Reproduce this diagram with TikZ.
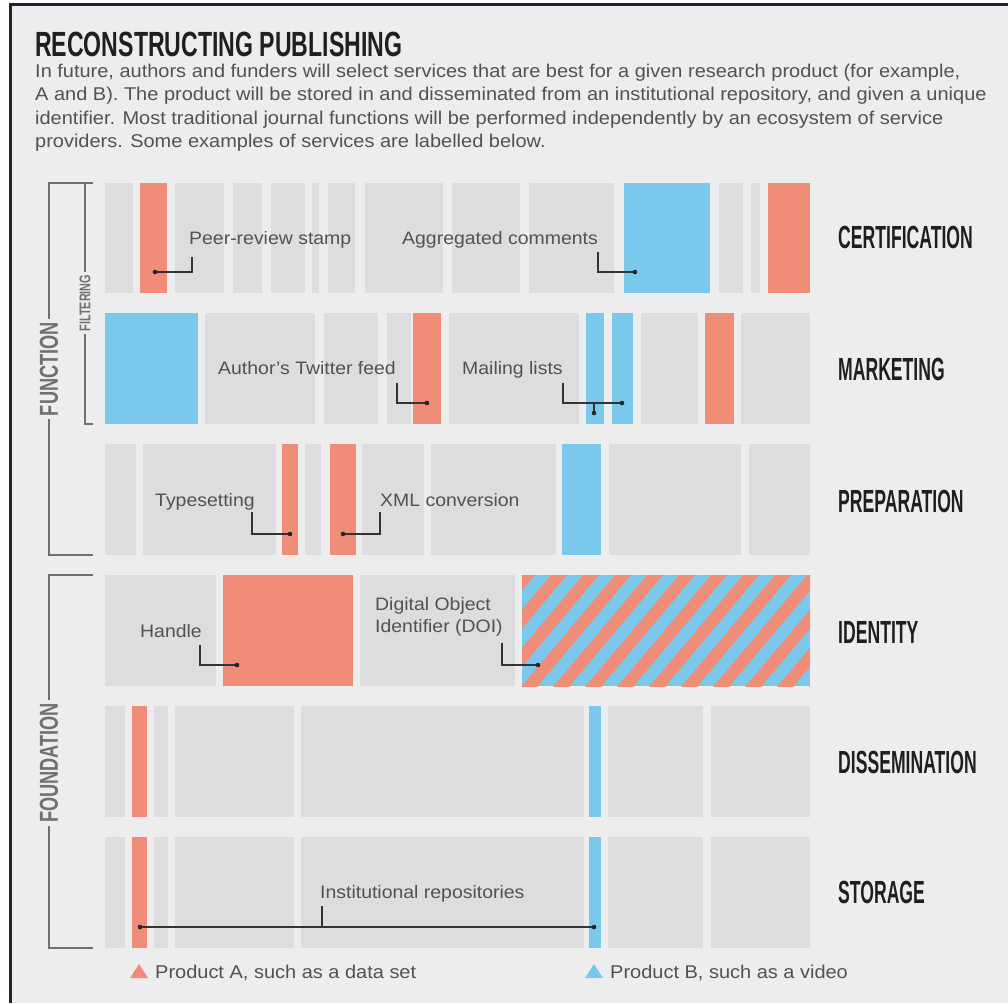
\documentclass[tikz,border=0pt]{standalone}
\usepackage{fontspec}
\setmainfont{Liberation Sans}[FakeStretch=1.08]
\newfontfamily\headfont{Liberation Sans}[FakeStretch=0.55]
\newfontfamily\titlefont{Liberation Sans}[FakeStretch=0.66]
\newfontfamily\tagfont{Liberation Sans}[FakeStretch=0.7]
\usepackage{tikz}
\usetikzlibrary{positioning}
\definecolor{bgpaper}{RGB}{237,237,238}
\definecolor{cellgrey}{RGB}{221,220,222}
\definecolor{proda}{RGB}{239,141,120}
\definecolor{prodb}{RGB}{122,201,236}
\definecolor{inkgrey}{RGB}{82,82,82}
\definecolor{bracketgrey}{RGB}{112,112,112}
\definecolor{framecol}{RGB}{27,36,52}
\tikzset{
	cell/.style={fill=cellgrey},
	proda/.style={fill=proda},
	prodb/.style={fill=prodb},
	stripe/.style={draw=proda, line width=12.2pt},
	leader/.style={draw=black!80, line width=1.3pt},
	dot/.style={fill=black!85},
	lbl/.style={anchor=base west, inner sep=0pt, text=inkgrey,
		font=\fontsize{18}{22}\selectfont},
	rowname/.style={anchor=base west, inner sep=0pt, text=black!88,
		font=\headfont\bfseries\fontsize{32}{32}\selectfont},
	bracket/.style={draw=bracketgrey, line width=2pt},
	bracketname/.style={rotate=90, fill=bgpaper, inner xsep=3pt, inner ysep=1pt,
		text=bracketgrey, font=\tagfont\bfseries\fontsize{26}{26}\selectfont},
}
\begin{document}
\begin{tikzpicture}[x=1pt, y=-1pt]
	\useasboundingbox (0,0) rectangle (1008,1003);
	\fill[white] (0,0) rectangle (1008,1003);
	\fill[bgpaper] (10,5) rectangle (1008,1003);
	\draw[framecol, line width=3pt] (10,1003) -- (10,5) -- (1008,5);

	\node[anchor=base west, inner sep=0pt, text=black!88,
		font=\titlefont\bfseries\fontsize{35}{35}\selectfont] (title) at (35,56.5) {RECONSTRUCTING PUBLISHING};
	\node[anchor=north west, inner sep=0pt, align=left, text=inkgrey,
		font=\fontsize{18.5}{23.3}\selectfont] (intro) at (35,64)
		{In future, authors and funders will select services that are best for a given research product (for example,\\
		A and B). The product will be stored in and disseminated from an institutional repository, and given a unique\\
		identifier. Most traditional journal functions will be performed independently by an ecosystem of service\\
		providers. Some examples of services are labelled below.};

	% certification
	\foreach \a/\b in {105/133,175/224,233/262,271/305,312/319,328/355,365/443,452/520,529/614,719/743,751/760}
		\fill[cell] (\a,183) rectangle (\b,293);
	\fill[proda] (140,183) rectangle (167,293);
	\fill[prodb] (624,183) rectangle (710,293);
	\fill[proda] (768,183) rectangle (810,293);
	% marketing
	\foreach \a/\b in {205/315,324/378,387/411,449/579,641/698,741/810}
		\fill[cell] (\a,313) rectangle (\b,424);
	\foreach \a/\b in {105/198,586/604,612/633}
		\fill[prodb] (\a,313) rectangle (\b,424);
	\foreach \a/\b in {413/441,705/734}
		\fill[proda] (\a,313) rectangle (\b,424);
	% preparation
	\foreach \a/\b in {105/136,143/276,305/321,362/424,431/556,609/741,749/810}
		\fill[cell] (\a,444) rectangle (\b,555);
	\foreach \a/\b in {282/298,330/356}
		\fill[proda] (\a,444) rectangle (\b,555);
	\fill[prodb] (562,444) rectangle (601,555);
	% identity
	\foreach \a/\b in {105/216,360/515}
		\fill[cell] (\a,575) rectangle (\b,686);
	\fill[proda] (223,575) rectangle (353,686);
	\begin{scope}
		\clip (522,575) rectangle (810,686);
		\fill[prodb] (522,575) rectangle (810,686);
		\foreach \s in {0,...,14}
			\draw[stripe] ({390+32*\s},700) -- ++(116,-138);
	\end{scope}
	% dissemination and storage
	\foreach \y in {706,837} {
		\foreach \a/\b in {105/125,154/168,175/294,301/584,608/703,711/810}
			\fill[cell] (\a,\y) rectangle (\b,\y+111);
		\fill[proda] (132,\y) rectangle (147,\y+111);
		\fill[prodb] (589,\y) rectangle (601,\y+111);
	}

	% brackets
	\draw[bracket] (93,183) -- (49,183) -- (49,555) -- (93,555);
	\draw[bracket] (49,183) -- (85,183) -- (85,424) -- (93,424);
	\draw[bracket] (93,575) -- (49,575) -- (49,948) -- (93,948);
	\node[bracketname] (function) at (49,369) {FUNCTION};
	\node[bracketname, font=\tagfont\bfseries\fontsize{15.5}{15.5}\selectfont] (filtering) at (85,303) {FILTERING};
	\node[bracketname] (foundation) at (49,763) {FOUNDATION};

	% layer names
	\node[rowname] (cert) at (838,248) {CERTIFICATION};
	\node[rowname] (mark) at (838,380) {MARKETING};
	\node[rowname] (prep) at (838,512) {PREPARATION};
	\node[rowname] (iden) at (838,643) {IDENTITY};
	\node[rowname] (diss) at (838,773) {DISSEMINATION};
	\node[rowname] (stor) at (838,903) {STORAGE};

	% service labels
	\node[lbl] (peerlbl) at (189,244) {Peer-review stamp};
	\node[lbl] (aggrlbl) at (402,244) {Aggregated comments};
	\node[lbl] (twitlbl) at (218,374) {Author's Twitter feed};
	\node[lbl] (maillbl) at (462,374) {Mailing lists};
	\node[lbl] (typelbl) at (155,506) {Typesetting};
	\node[lbl] (xmllbl) at (380,506) {XML conversion};
	\node[lbl] (handlbl) at (140,637) {Handle};
	\node[lbl, anchor=north west, align=left] (doilbl) at (375,597) {Digital Object\\Identifier (DOI)};
	\node[lbl] (instlbl) at (320,898) {Institutional repositories};

	\coordinate (peertop) at (192,257);   \coordinate (peerdot) at (155,272);
	\coordinate (aggrtop) at (598,252);   \coordinate (aggrdot) at (635,272);
	\coordinate (twittop) at (397,383);   \coordinate (twitdot) at (427,403);
	\coordinate (mailtop) at (563,383);   \coordinate (maildot) at (622,403);
	\coordinate (mailfork) at (594,403);  \coordinate (mailtick) at (594,413);
	\coordinate (typetop) at (252,512);   \coordinate (typedot) at (290,534);
	\coordinate (xmltop) at (380,512);    \coordinate (xmldot) at (343,534);
	\coordinate (handtop) at (200,645);   \coordinate (handdot) at (237,665);
	\coordinate (doitop) at (502,643);    \coordinate (doidot) at (538,665);
	\coordinate (insttop) at (322,906);   \coordinate (instfork) at (322,927);
	\coordinate (instdota) at (140,927);  \coordinate (instdotb) at (594,927);

	\draw[leader] (peertop) |- (peerdot);
	\draw[leader] (aggrtop) |- (aggrdot);
	\draw[leader] (twittop) |- (twitdot);
	\draw[leader] (mailtop) |- (maildot);
	\draw[leader] (mailfork) -- (mailtick);
	\draw[leader] (typetop) |- (typedot);
	\draw[leader] (xmltop) |- (xmldot);
	\draw[leader] (handtop) |- (handdot);
	\draw[leader] (doitop) |- (doidot);
	\draw[leader] (insttop) -- (instfork);
	\draw[leader] (instdota) -- (instdotb);
	\foreach \p in {peerdot,aggrdot,twitdot,maildot,mailtick,typedot,xmldot,handdot,doidot,instdota,instdotb}
		\fill[dot] (\p) circle (2.3pt);

	% legend
	\fill[proda] (130,978) -- (148,978) -- (139,964) -- cycle;
	\fill[prodb] (585,978) -- (603,978) -- (594,964) -- cycle;
	\node[lbl, font=\fontsize{18.5}{22}\selectfont] (legA) at (155,978) {Product A, such as a data set};
	\node[lbl, font=\fontsize{18.5}{22}\selectfont] (legB) at (610,978) {Product B, such as a video};
\end{tikzpicture}
\end{document}
